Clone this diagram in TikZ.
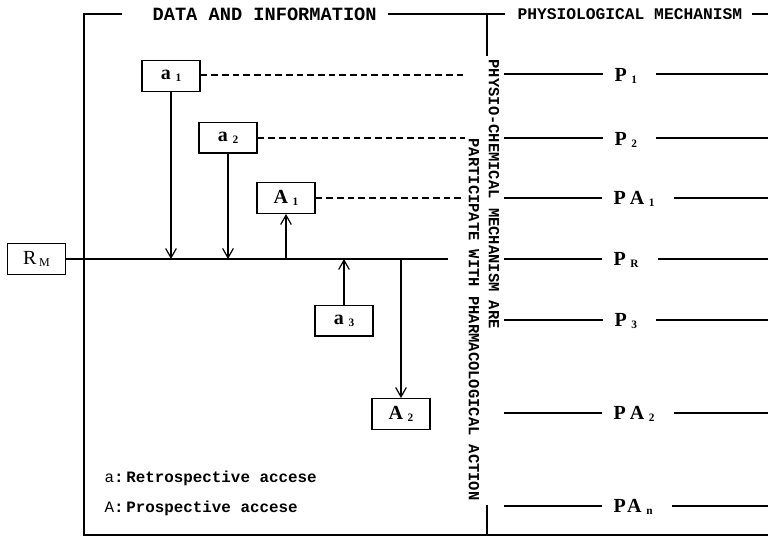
\documentclass[tikz,border=0pt]{standalone}
\usepackage{fontspec}
\setmainfont{Liberation Serif}
\newfontfamily\monof{Liberation Mono}
\usetikzlibrary{arrows.meta}
\newcommand{\sbx}[1]{\kern3.5pt\raisebox{-1.5pt}{\fontsize{8.5}{9}\selectfont\bfseries #1}}
\begin{document}
\begin{tikzpicture}[x=0.75pt,y=-0.75pt, line width=0.9pt,
  box/.style={draw, line width=1pt, minimum width=43.5pt, minimum height=23pt, inner sep=0pt,
              font=\fontsize{15}{16}\selectfont\bfseries},
  plab/.style={inner sep=0pt, anchor=west, font=\fontsize{15}{16}\selectfont\bfseries},
  arr/.style={-{Straight Barb[length=7pt,width=8pt]}},
  dsh/.style={dash pattern=on 5pt off 3pt},
  ttl/.style={inner sep=0pt, anchor=west, font=\monof\bfseries\fontsize{14}{16}\selectfont},
  ttlb/.style={inner sep=0pt, anchor=west, font=\monof\bfseries\fontsize{12.2}{14}\selectfont},
  vtxt/.style={inner sep=0pt, anchor=west, rotate=-90, font=\monof\bfseries\fontsize{11.6}{13}\selectfont},
  lgd/.style={inner sep=0pt, anchor=west, font=\monof\bfseries\fontsize{11.9}{13}\selectfont}
]
\useasboundingbox (0,0) rectangle (768,537);

% frame and headings
\node[ttl] (T1) at (152,14) {DATA AND INFORMATION};
\node[ttlb] (T2) at (517,14) {PHYSIOLOGICAL MECHANISM};
\coordinate (t1a) at (122,14);
\coordinate (fTL) at (84,14);
\coordinate (fBL) at (84,535);
\coordinate (fBR) at (768,535);
\coordinate (t1b) at (388,14);
\coordinate (t2a) at (505,14);
\coordinate (divT) at (487,14);
\coordinate (divTb) at (487,56);
\coordinate (divB) at (487,505);
\coordinate (t2b) at (752,14);
\coordinate (t2c) at (768,14);
\draw (t1a) -- (fTL) -- (fBL) -- (fBR);
\draw (t1b) -- (t2a);
\draw (divT) -- (divTb);
\draw (divB) -- (divB |- fBL);
\draw (t2b) -- (t2c);

% vertical text
\node[vtxt] (V1) at (494,59) {PHYSIO-CHEMICAL MECHANISM ARE};
\node[vtxt] (V2) at (474,138) {PARTICIPATE WITH PHARMACOLOGICAL ACTION};

% boxes
\node[box] (RM) at (36.5,259) {\mdseries R\kern2pt\raisebox{-2pt}{\fontsize{9}{10}\selectfont M}};
\node[box] (a1) at (171,76) {a\sbx{1}};
\node[box] (a2) at (228,137.5) {a\sbx{2}};
\node[box] (A1) at (286,198) {A\sbx{1}};
\node[box] (a3) at (344,320.5) {a\sbx{3}};
\node[box] (A2) at (401,414) {A\sbx{2}};

% main line
\coordinate (mainend) at (448,259);
\draw (RM.east) -- (mainend);

% arrows
\draw[arr] (a1.south) -- (a1.south |- mainend);
\draw[arr] (a2.south) -- (a2.south |- mainend);
\draw[arr] (A1.south |- mainend) -- (A1.south);
\draw[arr] (a3.north) -- (a3.north |- mainend);
\draw[arr] (A2.north |- mainend) -- (A2.north);

% dashed links
\coordinate (d1) at (465,75);
\coordinate (d2) at (465,138);
\coordinate (d3) at (465,198);
\draw[dsh] (a1.east |- d1) -- (d1);
\draw[dsh] (a2.east |- d2) -- (d2);
\draw[dsh] (A1.east |- d3) -- (d3);

% right-hand mechanisms
\node[plab] (P1) at (614,76) {P\sbx{1}};
\node[plab] (P2) at (614,140) {P\sbx{2}};
\node[plab] (PA1) at (613,199) {P\kern3pt A\sbx{1}};
\node[plab] (PR) at (613,260) {P\sbx{R}};
\node[plab] (P3) at (614,321) {P\sbx{3}};
\node[plab] (PA2) at (613,414) {P\kern3pt A\sbx{2}};
\node[plab] (PAn) at (613,507) {P\kern1pt A\sbx{n}};

\foreach \n/\y in {P1/74,P2/138,PA1/198,PR/259,P3/320,PA2/413,PAn/506}{
  \coordinate (\n-l) at (504,\y);
  \coordinate (\n-r) at (768,\y);
  \draw (\n-l) -- ([xshift=-8pt]\n.west |- \n-l);
  \draw ([xshift=14pt]\n.east |- \n-l) -- (\n-r);
}

% legend
\node[lgd] (L1) at (104,478) {\mdseries a\bfseries:\,Retrospective accese};
\node[lgd] (L2) at (104,508) {\mdseries A\bfseries:\,Prospective accese};
\end{tikzpicture}
\end{document}
